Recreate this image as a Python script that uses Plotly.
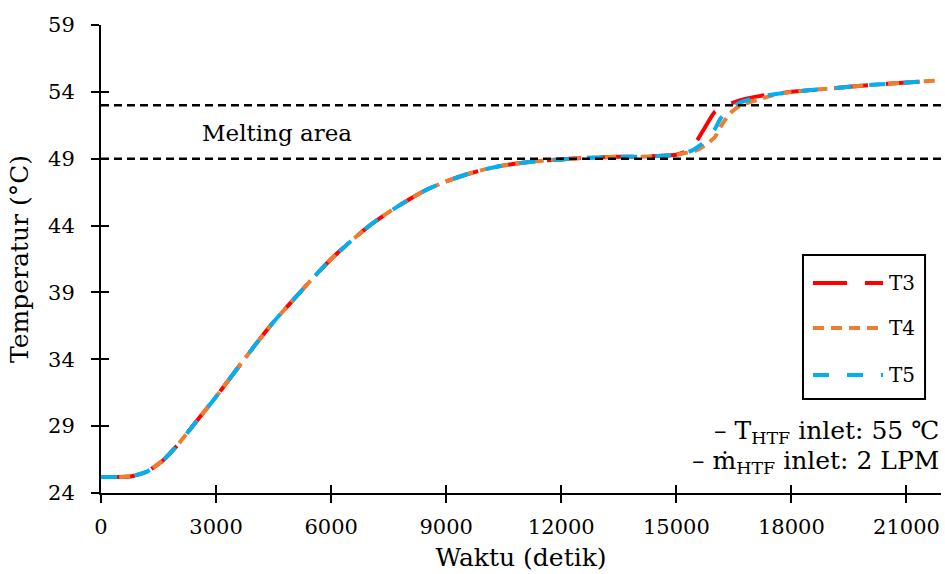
import plotly.graph_objects as go

# Shared early part of the curves (time in s, temperature in °C)
base_t = [0, 500, 800, 1200, 1600, 2000, 2500, 3000, 3500, 4000, 4500, 5000, 5500,
          6000, 6500, 7000, 7500, 8000, 8500, 9000, 9500, 10000, 10500, 11000,
          11500, 12000, 12500, 13000, 13500, 14000, 14500, 15000]
base_v = [25.2, 25.2, 25.25, 25.6, 26.4, 27.6, 29.4, 31.2, 33.1, 35.0, 36.8, 38.4, 40.0,
          41.5, 42.8, 44.0, 45.0, 45.9, 46.7, 47.3, 47.8, 48.2, 48.5, 48.7,
          48.85, 48.95, 49.05, 49.1, 49.15, 49.15, 49.2, 49.3]

t3_t = [15300, 15500, 15800, 16000, 16300, 16700, 17200, 18000, 19000, 20000, 21000, 21800]
t3_v = [49.6, 50.2, 51.6, 52.5, 53.0, 53.4, 53.7, 54.0, 54.25, 54.5, 54.7, 54.85]

t4_t = [15500, 15750, 16000, 16200, 16400, 16650, 17100, 17600, 18000, 19000, 20000, 21000, 21800]
t4_v = [49.6, 50.0, 50.6, 51.6, 52.4, 52.95, 53.4, 53.8, 54.0, 54.25, 54.5, 54.7, 54.85]

t5_t = [15400, 15800, 16000, 16150, 16400, 16700, 17200, 18000, 19000, 20000, 21000, 21800]
t5_v = [49.6, 50.4, 51.2, 52.0, 52.8, 53.25, 53.65, 54.0, 54.25, 54.5, 54.7, 54.85]

melt_low = 49
melt_high = 53

x_ticks = list(range(0, 21001, 3000))
x_ticktext = [str(v) for v in x_ticks]
y_ticks = list(range(24, 60, 5))
y_ticktext = [str(v) for v in y_ticks]

FONT = "DejaVu Serif"

fig = go.Figure()
series = [
    ("T3", t3_t, t3_v, "#FF0000", "34px,18px"),
    ("T4", t4_t, t4_v, "#ED7D31", "11px,7px"),
    ("T5", t5_t, t5_v, "#00B0F0", "16px,18px"),
]
for name, tt, vv, col, dash in series:
    fig.add_trace(go.Scatter(
        x=base_t + tt, y=base_v + vv, name=name, mode="lines",
        line=dict(color=col, width=4, dash=dash, shape="spline", smoothing=0.5),
        showlegend=False,
    ))

# melting area lines
for yv in (melt_low, melt_high):
    fig.add_trace(go.Scatter(
        x=[0, 21900], y=[yv, yv], mode="lines", showlegend=False,
        line=dict(color="black", width=2.5, dash="8px,5px"), hoverinfo="skip",
    ))

# invisible trace for overlay axes (inside ticks)
fig.add_trace(go.Scatter(x=[0], y=[24], xaxis="x2", yaxis="y2", mode="markers",
                         marker=dict(opacity=0), showlegend=False, hoverinfo="skip"))

axis_common = dict(showgrid=False, zeroline=False, linecolor="black", linewidth=2,
                   tickcolor="black", tickwidth=2, ticklen=8)

fig.update_layout(
    width=945, height=574,
    margin=dict(l=101, r=4, t=25, b=81),
    plot_bgcolor="white", paper_bgcolor="white",
    font=dict(family=FONT, color="black", size=21),
    xaxis=dict(range=[0, 21900], tickvals=x_ticks, ticktext=x_ticktext, ticks="outside",
               showline=True, ticklabelstandoff=6,
               title=dict(text="Waktu (detik)", font=dict(family=FONT, size=25), standoff=10),
               tickfont=dict(family=FONT, size=21), **axis_common),
    yaxis=dict(range=[24, 59], tickvals=y_ticks, ticktext=y_ticktext, ticks="outside",
               showline=True, ticklabelstandoff=12,
               title=dict(text="Temperatur (°C)", font=dict(family=FONT, size=25), standoff=12),
               tickfont=dict(family=FONT, size=21), **axis_common),
    xaxis2=dict(range=[0, 21900], tickvals=x_ticks, ticks="inside", overlaying="x",
                showticklabels=False, showline=False, showgrid=False, zeroline=False,
                tickcolor="black", tickwidth=2, ticklen=8),
    yaxis2=dict(range=[24, 59], tickvals=y_ticks, ticks="inside", overlaying="y",
                showticklabels=False, showline=False, showgrid=False, zeroline=False,
                tickcolor="black", tickwidth=2, ticklen=8),
    showlegend=False,
)

# manual legend box (paper coordinates)
fig.add_shape(type="rect", xref="paper", yref="paper", x0=0.8357, x1=0.981,
              y0=0.2009, y1=0.5085, line=dict(color="black", width=2), fillcolor="white",
              layer="above")
legend_y = [0.4487, 0.3526, 0.2521]
for (name, tt, vv, col, dash), ly in zip(series, legend_y):
    fig.add_shape(type="line", xref="paper", yref="paper", x0=0.8476, x1=0.931,
                  y0=ly, y1=ly, line=dict(color=col, width=4, dash=dash), layer="above")
    fig.add_annotation(x=0.936, y=ly, xref="paper", yref="paper", xanchor="left",
                       yanchor="middle", text=name, showarrow=False,
                       font=dict(family=FONT, size=20))

fig.add_annotation(x=4600, y=50.9, xref="x", yref="y", text="Melting area",
                   showarrow=False, font=dict(family=FONT, size=23))
fig.add_annotation(x=1, y=0.13, xref="paper", yref="paper", xanchor="right", yanchor="middle",
                   text="– T<sub>HTF</sub> inlet: 55 ℃", showarrow=False,
                   font=dict(family=FONT, size=25), align="right")
fig.add_annotation(x=1, y=0.066, xref="paper", yref="paper", xanchor="right", yanchor="middle",
                   text="– ṁ<sub>HTF</sub> inlet: 2 LPM", showarrow=False,
                   font=dict(family=FONT, size=25), align="right")

fig.write_html("out.html")
